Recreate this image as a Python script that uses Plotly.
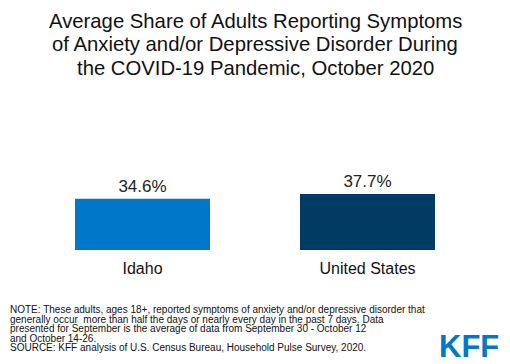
import plotly.graph_objects as go

categories = ["Idaho", "United States"]
values = [34.6, 37.7]
bar_colors = ["#0077C8", "#003B63"]
title_lines = [
    "Average Share of Adults Reporting Symptoms",
    "of Anxiety and/or Depressive Disorder During",
    "the COVID-19 Pandemic, October 2020",
]
note_lines = [
    "NOTE: These adults, ages 18+, reported symptoms of anxiety and/or depressive disorder that",
    "generally occur  more than half the days or nearly every day in the past 7 days. Data",
    "presented for September is the average of data from September 30 - October 12",
    "and October 14-26.",
    "SOURCE: KFF analysis of U.S. Census Bureau, Household Pulse Survey, 2020.",
]

FONT = "Liberation Sans, Arial, sans-serif"

fig = go.Figure(
    go.Bar(
        x=categories,
        y=values,
        marker=dict(color=bar_colors, line=dict(width=0)),
        width=0.6,
        text=[f"{v:.1f}%" for v in values],
        textposition="outside",
        textfont=dict(family=FONT, size=17, color="#222222"),
        cliponaxis=False,
        hoverinfo="skip",
    )
)

W, H = 510, 364
mt, mb, ml, mr = 161, 114, 30, 30
ph = H - mt - mb
pw = W - ml - mr


def px_to_paper(x, y):
    return (x - ml) / pw, (H - y - mb) / ph


annotations = []
for i, line in enumerate(title_lines):
    x, y = px_to_paper(255, 20.5 + i * 23.5)
    annotations.append(dict(
        text=line, xref="paper", yref="paper", x=x, y=y,
        xanchor="center", yanchor="middle", showarrow=False,
        font=dict(family=FONT, size=20.3, color="#111111"),
    ))
note_y = [309.5, 319, 328.5, 338, 347.5]
for line, yy in zip(note_lines, note_y):
    x, y = px_to_paper(8, yy)
    annotations.append(dict(
        text=line, xref="paper", yref="paper", x=x, y=y,
        xanchor="left", yanchor="middle", showarrow=False,
        font=dict(family=FONT, size=10.0, color="#111111"),
    ))
x, y = px_to_paper(501, 346)
annotations.append(dict(
    text="<b>KFF</b>", xref="paper", yref="paper", x=x, y=y,
    xanchor="right", yanchor="middle", showarrow=False,
    font=dict(family=FONT, size=31, color="#0077C8"),
))

fig.update_layout(
    width=W, height=H,
    margin=dict(l=ml, r=mr, t=mt, b=mb),
    paper_bgcolor="white", plot_bgcolor="white",
    showlegend=False,
    annotations=annotations,
    xaxis=dict(
        showline=False, showgrid=False, zeroline=False, ticks="",
        tickfont=dict(family=FONT, size=16, color="#111111"),
        ticklabelstandoff=7,
        range=[-0.5, 1.5],
    ),
    yaxis=dict(visible=False, range=[0, 60]),
    font=dict(family=FONT),
)

fig.write_html(
    "out.html",
    config={"displayModeBar": False},
    post_script="document.body.style.margin='0';",
)
